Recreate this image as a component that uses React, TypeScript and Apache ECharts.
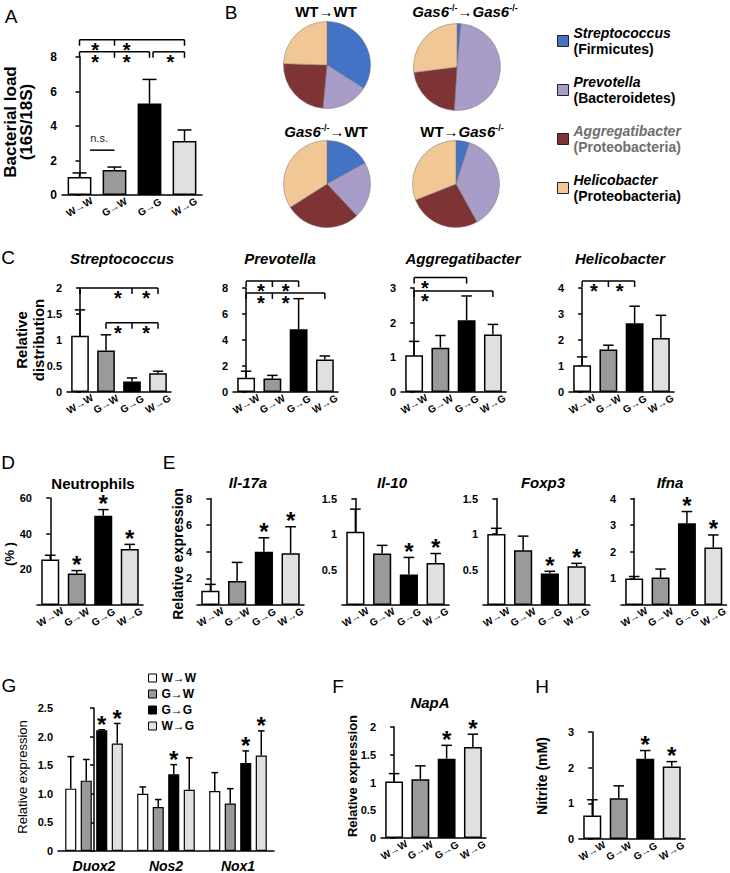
import React, { useEffect, useRef } from 'react';
import * as echarts from 'echarts';

const FONT = "'Liberation Sans', Arial, Helvetica, sans-serif";

const groups = ['W→W', 'G→W', 'G→G', 'W→G'];
const barColors = ['#ffffff', '#9a9a9a', '#000000', '#e0e0e0'];
const noStars = [0, 0, 0, 0];
const starsD = [0, 1, 1, 1];
const starsLate = [0, 0, 1, 1];

// A – bacterial load (16S/18S)
const loadMean = [1.04, 1.45, 5.3, 3.13];
const loadSem = [0.24, 0.17, 1.4, 0.64];

// B – pie charts
const genera = ['Streptococcus', 'Prevotella', 'Aggregatibacter', 'Helicobacter'];
const phyla = ['Firmicutes', 'Bacteroidetes', 'Proteobacteria', 'Proteobacteria'];
const pieColors = ['#4472c4', '#a99cc9', '#7e3434', '#f0c795'];
const pieWTWT = [34, 17.5, 24, 24.5];
const pieKOKO = [1.5, 49.5, 22, 27];
const pieKOWT = [17, 21, 28, 34];
const pieWTKO = [5, 37, 27, 31];

// C – relative distribution
const strepMean = [1.08, 0.8, 0.2, 0.36];
const strepSem = [0.5, 0.3, 0.07, 0.04];
const prevoMean = [1.1, 1.03, 4.82, 2.5];
const prevoSem = [0.5, 0.25, 2.36, 0.27];
const aggreMean = [1.06, 1.28, 2.07, 1.66];
const aggreSem = [0.4, 0.35, 0.7, 0.29];
const helicoMean = [1.03, 1.63, 2.64, 2.08];
const helicoSem = [0.32, 0.17, 0.66, 0.87];

// D – neutrophils (%)
const neutroMean = [25.5, 17.6, 50.1, 31.4];
const neutroSem = [2.4, 1.7, 3.4, 2.6];

// E – relative expression
const il17Mean = [1.07, 1.8, 4.0, 3.88];
const il17Sem = [0.48, 1.4, 1.05, 2.0];
const il10Mean = [1.03, 0.725, 0.43, 0.59];
const il10Sem = [0.32, 0.115, 0.24, 0.135];
const foxp3Mean = [1.0, 0.77, 0.445, 0.547];
const foxp3Sem = [0.08, 0.2, 0.03, 0.04];
const ifnaMean = [1.0, 1.03, 3.07, 2.16];
const ifnaSem = [0.07, 0.32, 0.44, 0.47];

// F – NapA
const napaMean = [1.02, 1.06, 1.43, 1.64];
const napaSem = [0.14, 0.24, 0.24, 0.23];

// H – nitrite (mM)
const nitriteMean = [0.66, 1.14, 2.25, 2.03];
const nitriteSem = [0.44, 0.35, 0.23, 0.14];

// G – grouped expression
const genes = ['Duox2', 'Nos2', 'Nox1'];
const gWW = [1.09, 1.0, 1.05];
const gWWSem = [0.56, 0.12, 0.32];
const gGW = [1.23, 0.77, 0.83];
const gGWSem = [0.37, 0.13, 0.26];
const gGG = [2.11, 1.34, 1.54];
const gGGSem = [0.01, 0.17, 0.21];
const gWG = [1.88, 1.07, 1.67];
const gWGSem = [0.35, 0.56, 0.43];
const gGGStar = [1, 1, 1];
const gWGStar = [1, 0, 1];

type Bracket = { y: number; xs: number[]; stars?: number[]; label?: string; labelX?: number; noTicks?: boolean };

const bracketsA: Bracket[] = [
  { y: 9.0, xs: [0, 1, 3], stars: [0.45, 1.35] },
  { y: 8.3, xs: [0, 1, 2], stars: [0.45, 1.35] },
  { y: 8.3, xs: [2.1, 3], stars: [2.6] },
  { y: 2.6, xs: [0.3, 1.0], noTicks: true, label: 'n.s.', labelX: 0.56 },
];
const bracketsC1: Bracket[] = [
  { y: 2.0, xs: [0, 2, 3], stars: [1.46, 2.54] },
  { y: 1.33, xs: [1, 2, 3], stars: [1.46, 2.54] },
];
const bracketsC2: Bracket[] = [
  { y: 8.54, xs: [0, 1, 2], stars: [0.56, 1.51] },
  { y: 7.62, xs: [0, 1, 3], stars: [0.56, 1.51] },
];
const bracketsC3: Bracket[] = [
  { y: 3.3, xs: [0, 2], stars: [0.41] },
  { y: 2.91, xs: [0, 3], stars: [0.41] },
];
const bracketsC4: Bracket[] = [{ y: 4.27, xs: [0, 1, 2], stars: [0.45, 1.43] }];

const lineStyle = { stroke: '#000', lineWidth: 1.5 };

const starStyle = (size: number) => ({
  text: '*', fontSize: size, fontFamily: FONT, fontWeight: 'bold', fill: '#000',
  align: 'center', verticalAlign: 'middle', lineHeight: 10,
});

const errRender = (capFrac: number, starSize: number, starLift: number) => (params: any, api: any) => {
  const x = api.value(0);
  const m = api.value(1);
  const s = api.value(2);
  const st = api.value(3);
  const p0 = api.coord([x, m]);
  const p1 = api.coord([x, m + s]);
  const cap = api.size([1, 0])[0] * capFrac;
  const children: any[] = [
    { type: 'line', shape: { x1: p0[0], y1: p0[1], x2: p1[0], y2: p1[1] }, style: lineStyle },
    { type: 'line', shape: { x1: p1[0] - cap / 2, y1: p1[1], x2: p1[0] + cap / 2, y2: p1[1] }, style: lineStyle },
  ];
  if (st) {
    children.push({ type: 'text', x: p1[0], y: p1[1] - starLift, style: starStyle(starSize) });
  }
  return { type: 'group', children };
};

const bracketRender = (list: Bracket[]) => (params: any, api: any) => {
  const b = list[params.dataIndex];
  const pts = b.xs.map((x) => api.coord([x, b.y]));
  const ch: any[] = [
    { type: 'line', shape: { x1: pts[0][0], y1: pts[0][1], x2: pts[pts.length - 1][0], y2: pts[0][1] }, style: lineStyle },
  ];
  if (!b.noTicks) {
    pts.forEach((p) => ch.push({ type: 'line', shape: { x1: p[0], y1: p[1], x2: p[0], y2: p[1] + 6 }, style: lineStyle }));
  }
  (b.stars || []).forEach((sx) => {
    const p = api.coord([sx, b.y]);
    ch.push({ type: 'text', x: p[0], y: p[1] + 10, style: starStyle(20) });
  });
  if (b.label) {
    const p = api.coord([b.labelX, b.y]);
    ch.push({
      type: 'text', x: p[0], y: p[1] - 12,
      style: { text: b.label, fontSize: 11, fontFamily: FONT, fill: '#222', align: 'center', verticalAlign: 'middle' },
    });
  }
  return { type: 'group', children: ch };
};

type Panel = {
  left: number; top: number; width: number; height: number;
  max: number; interval: number;
  mean: number[]; sem: number[]; stars: number[];
  brackets: Bracket[]; hideZero?: boolean; tickSize?: number;
};

const panels: Panel[] = [
  { left: 62, top: 57, width: 140, height: 138, max: 8, interval: 2, mean: loadMean, sem: loadSem, stars: noStars, brackets: bracketsA, tickSize: 12 },
  { left: 67, top: 288, width: 104, height: 104, max: 2, interval: 0.5, mean: strepMean, sem: strepSem, stars: noStars, brackets: bracketsC1 },
  { left: 233, top: 288, width: 105, height: 104, max: 8, interval: 2, mean: prevoMean, sem: prevoSem, stars: noStars, brackets: bracketsC2 },
  { left: 401, top: 288, width: 105, height: 104, max: 3, interval: 1, mean: aggreMean, sem: aggreSem, stars: noStars, brackets: bracketsC3 },
  { left: 569, top: 288, width: 105, height: 104, max: 4, interval: 1, mean: helicoMean, sem: helicoSem, stars: noStars, brackets: bracketsC4 },
  { left: 37, top: 498, width: 106, height: 107, max: 60, interval: 20, mean: neutroMean, sem: neutroSem, stars: starsD, brackets: [], hideZero: true },
  { left: 197, top: 498.5, width: 107, height: 106.5, max: 8, interval: 2, mean: il17Mean, sem: il17Sem, stars: starsLate, brackets: [], hideZero: true },
  { left: 342, top: 498.5, width: 107, height: 106.5, max: 1.5, interval: 0.5, mean: il10Mean, sem: il10Sem, stars: starsLate, brackets: [], hideZero: true },
  { left: 483, top: 498.5, width: 107, height: 106.5, max: 1.5, interval: 0.5, mean: foxp3Mean, sem: foxp3Sem, stars: starsLate, brackets: [], hideZero: true },
  { left: 621, top: 498.5, width: 107, height: 106.5, max: 4, interval: 1, mean: ifnaMean, sem: ifnaSem, stars: starsLate, brackets: [], hideZero: true },
  { left: 381, top: 727, width: 105, height: 111, max: 2, interval: 0.5, mean: napaMean, sem: napaSem, stars: starsLate, brackets: [] },
  { left: 579, top: 732, width: 106, height: 107, max: 3, interval: 1, mean: nitriteMean, sem: nitriteSem, stars: starsLate, brackets: [] },
];

const axisLineStyle = { color: '#000', width: 1.5 };

function buildOption() {
  const grid: any[] = [];
  const xAxis: any[] = [];
  const yAxis: any[] = [];
  const series: any[] = [];

  const addAxes = (cats: string[], g: any, max: number, interval: number, hideZero: boolean, grouped: boolean, tickSize: number, fmt?: (v: number) => string) => {
    const gi = grid.length;
    grid.push({ left: g.left, top: g.top, width: g.width, height: g.height });
    xAxis.push({
      type: 'category', gridIndex: gi, data: cats,
      axisLine: { lineStyle: axisLineStyle },
      axisTick: { alignWithLabel: true, length: 4, lineStyle: axisLineStyle },
      axisLabel: grouped
        ? { interval: 0, fontSize: 14, fontWeight: 'bold', fontStyle: 'italic', color: '#000', fontFamily: FONT, margin: 8 }
        : { interval: 0, rotate: 30, align: 'center', verticalAlign: 'middle', margin: 12, fontSize: 10, fontWeight: 'bold', color: '#000', fontFamily: FONT },
    });
    xAxis.push({ type: 'value', gridIndex: gi, min: -0.5, max: cats.length - 0.5, show: false });
    yAxis.push({
      type: 'value', gridIndex: gi, min: 0, max, interval,
      axisLine: { show: true, lineStyle: axisLineStyle },
      axisTick: { show: true, length: 4, lineStyle: axisLineStyle },
      splitLine: { show: false },
      axisLabel: { fontSize: tickSize, fontWeight: 'bold', color: '#000', fontFamily: FONT, margin: 5, showMinLabel: !hideZero, ...(fmt ? { formatter: fmt } : {}) },
    });
    return gi;
  };

  panels.forEach((p, k) => {
    const gi = addAxes(groups, p, p.max, p.interval, !!p.hideZero, false, p.tickSize || 11);
    series.push({
      type: 'bar', name: 'panel' + k, xAxisIndex: 2 * gi, yAxisIndex: gi, barCategoryGap: '32%', silent: true,
      itemStyle: { borderColor: '#000', borderWidth: 1.5 },
      data: p.mean.map((v, i) => ({ value: v, itemStyle: { color: barColors[i] } })),
    });
    series.push({
      type: 'custom', xAxisIndex: 2 * gi + 1, yAxisIndex: gi, silent: true, z: 3,
      renderItem: errRender(0.4, 24, 6),
      data: p.mean.map((m, i) => [i, m, p.sem[i], p.stars[i]]),
    });
    if (p.brackets.length) {
      series.push({
        type: 'custom', xAxisIndex: 2 * gi + 1, yAxisIndex: gi, silent: true, z: 3,
        renderItem: bracketRender(p.brackets),
        data: p.brackets.map((b) => [b.xs[0], b.y]),
      });
    }
  });

  // G – grouped bars
  const gg = addAxes(genes, { left: 58, top: 708, width: 216, height: 144 }, 2.5, 0.5, false, true, 11, (v: number) => (v === 0 ? '0' : v.toFixed(1)));
  const catGap = 0.2;
  const barGap = 0.4;
  const w = (1 - catGap) / (4 + 3 * barGap);
  const gMeans = [gWW, gGW, gGG, gWG];
  const gSems = [gWWSem, gGWSem, gGGSem, gWGSem];
  const gStars = [[0, 0, 0], [0, 0, 0], gGGStar, gWGStar];
  gMeans.forEach((arr, j) => {
    series.push({
      type: 'bar', name: groups[j], xAxisIndex: 2 * gg, yAxisIndex: gg, barCategoryGap: '20%', barGap: '40%', silent: true,
      itemStyle: { color: barColors[j], borderColor: '#000', borderWidth: 1.2 },
      data: arr,
    });
  });
  const gErr: any[] = [];
  gMeans.forEach((arr, j) => {
    const off = -(1 - catGap) / 2 + w / 2 + j * w * (1 + barGap);
    arr.forEach((m, i) => gErr.push([i + off, m, gSems[j][i], gStars[j][i]]));
  });
  series.push({
    type: 'custom', xAxisIndex: 2 * gg + 1, yAxisIndex: gg, silent: true, z: 3,
    renderItem: errRender(w * 0.6, 24, 5),
    data: gErr,
  });

  // B – pies
  const pie = (vals: number[], center: number[]) => ({
    type: 'pie', radius: 43.5, center, startAngle: 90, clockwise: true, silent: true,
    label: { show: false }, labelLine: { show: false },
    itemStyle: { borderColor: '#777', borderWidth: 0.5 },
    data: genera.map((g, i) => ({ name: g, value: vals[i], itemStyle: { color: pieColors[i] } })),
  });
  series.push(pie(pieWTWT, [327, 65]));
  series.push(pie(pieKOKO, [457, 67]));
  series.push(pie(pieKOWT, [327, 184]));
  series.push(pie(pieWTKO, [456, 184]));

  const txt = (text: string, x: number, y: number, o: any = {}) => ({
    type: 'text', x, y, rotation: o.rot || 0, silent: true, z: 10,
    style: {
      text, fontFamily: FONT, fontSize: o.size || 15, fontWeight: o.weight || 'bold', fontStyle: o.italic ? 'italic' : 'normal',
      fill: o.fill || '#000', align: 'center', verticalAlign: 'middle', lineHeight: o.lh, rich: o.rich,
    },
  });

  const titleRich = {
    n: { fontSize: 15, fontWeight: 'bold', fontFamily: FONT },
    i: { fontSize: 15, fontWeight: 'bold', fontStyle: 'italic', fontFamily: FONT },
    s: { fontSize: 9, fontWeight: 'bold', fontFamily: FONT, verticalAlign: 'top' },
  };

  const R = Math.PI / 2;
  const graphic = [
    txt('A', 11, 16, { size: 19, weight: 'normal' }),
    txt('B', 231, 12, { size: 19, weight: 'normal' }),
    txt('C', 8, 257, { size: 19, weight: 'normal' }),
    txt('D', 8, 462, { size: 19, weight: 'normal' }),
    txt('E', 169, 462, { size: 19, weight: 'normal' }),
    txt('G', 9, 685, { size: 19, weight: 'normal' }),
    txt('F', 338, 686, { size: 19, weight: 'normal' }),
    txt('H', 542, 686, { size: 19, weight: 'normal' }),
    txt('{n|WT→WT}', 326, 11, { rich: titleRich }),
    txt('{i|Gas6}{s|-/-}{n|→}{i|Gas6}{s|-/-}', 465, 11, { rich: titleRich }),
    txt('{i|Gas6}{s|-/-}{n|→WT}', 326, 131, { rich: titleRich }),
    txt('{n|WT→}{i|Gas6}{s|-/-}', 462, 131, { rich: titleRich }),
    txt('Streptococcus', 122, 258, { italic: true }),
    txt('Prevotella', 280, 258, { italic: true }),
    txt('Aggregatibacter', 463, 258, { italic: true }),
    txt('Helicobacter', 620, 258, { italic: true }),
    txt('Neutrophils', 93, 483),
    txt('Il-17a', 248, 482, { italic: true }),
    txt('Il-10', 392, 482, { italic: true }),
    txt('Foxp3', 543, 482, { italic: true }),
    txt('Ifna', 670, 482, { italic: true }),
    txt('NapA', 430, 702, { italic: true }),
    txt('Bacterial load\n(16S/18S)', 18, 122, { rot: R, size: 17, lh: 16 }),
    txt('Relative\ndistribution', 30, 340, { rot: R, size: 15, lh: 17 }),
    txt('(% )', 9, 554, { rot: R, size: 13 }),
    txt('Relative expression', 178, 554, { rot: R, size: 14 }),
    txt('Relative expression', 22, 777, { rot: R, size: 13, weight: 'normal' }),
    txt('Relative expression', 352, 776, { rot: R, size: 13 }),
    txt('Nitrite (mM)', 542, 776, { rot: R, size: 14 }),
  ];

  const legend = [
    {
      data: genera, orient: 'vertical', left: 552, top: 21, itemWidth: 11, itemHeight: 11, itemGap: 19,
      icon: 'rect', selectedMode: false,
      itemStyle: { borderColor: '#222', borderWidth: 1 },
      formatter: (name: string) => {
        const i = genera.indexOf(name);
        const gray = i === 2;
        return `{${gray ? 'gg' : 'g'}|${name}}\n{${gray ? 'pg' : 'p'}|(${phyla[i]})}`;
      },
      textStyle: {
        fontFamily: FONT,
        rich: {
          g: { fontSize: 14, fontWeight: 'bold', fontStyle: 'italic', color: '#000', lineHeight: 16, fontFamily: FONT },
          p: { fontSize: 14, fontWeight: 'bold', color: '#000', lineHeight: 16, fontFamily: FONT },
          gg: { fontSize: 14, fontWeight: 'bold', fontStyle: 'italic', color: '#6e6e6e', lineHeight: 16, fontFamily: FONT },
          pg: { fontSize: 14, fontWeight: 'bold', color: '#6e6e6e', lineHeight: 16, fontFamily: FONT },
        },
      },
    },
    {
      data: groups, orient: 'vertical', left: 143, top: 667, itemWidth: 8, itemHeight: 8, itemGap: 4,
      icon: 'rect', selectedMode: false,
      itemStyle: { borderColor: '#000', borderWidth: 1 },
      textStyle: { fontSize: 12, fontWeight: 'bold', color: '#000', fontFamily: FONT },
    },
  ];

  return { animation: false, backgroundColor: '#ffffff', grid, xAxis, yAxis, series, legend, graphic };
}

export default function App() {
  const ref = useRef<HTMLDivElement>(null);
  useEffect(() => {
    if (!ref.current) return;
    const chart = echarts.init(ref.current, undefined, { renderer: 'svg' });
    chart.setOption(buildOption() as any);
    return () => chart.dispose();
  }, []);
  return <div ref={ref} style={{ position: 'absolute', left: 0, top: 0, width: 730, height: 873, background: '#fff' }} />;
}
